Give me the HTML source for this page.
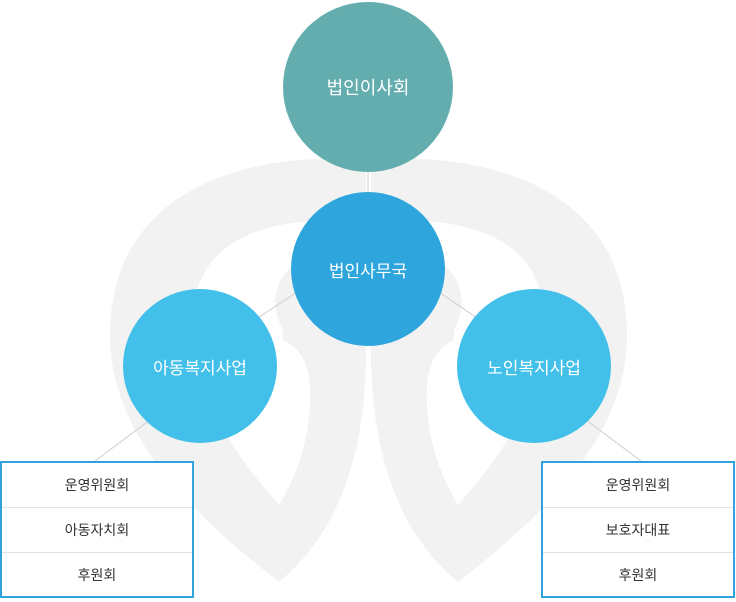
<html><head><style>
body{margin:0;width:736px;height:602px;background:#fff;position:relative;overflow:hidden;font-family:"Liberation Sans","Noto Sans CJK KR",sans-serif}
.c{position:absolute;border-radius:50%;color:#fff;display:flex;align-items:center;justify-content:center;font-size:17px}
.box{position:absolute;top:461px;width:190px;height:133px;border:2px solid #31a3dc;background:#fff}
.box div{height:44px;border-bottom:1px solid #e2e2e2;display:flex;align-items:center;justify-content:center;font-size:14px;color:#333}
.box div:last-child{border-bottom:none}
</style></head><body>
<svg width="736" height="602" style="position:absolute;left:0;top:0">
<defs>
<path id="lobe" fill-rule="evenodd" fill="#f2f2f2" d="M362,159 C220,152 110,205 110,335 C110,440 200,520 279,582 C330,540 364,470 366,360 L366,159 Z
M355,221 C250,215 193,250 193,320 C193,400 240,460 279,505 C300,470 312,430 310,385 C308,358 296,346 283,340 L283,330 C272,310 272,285 290,268 C305,250 330,235 355,232 Z"/>
</defs>
<use href="#lobe"/>
<use href="#lobe" transform="translate(737,0) scale(-1,1)"/>
<g stroke="#ccc" stroke-width="1">
<line x1="368" y1="170" x2="368" y2="195"/>
<line x1="300" y1="290" x2="255" y2="320"/>
<line x1="436" y1="290" x2="480" y2="320"/>
<line x1="150" y1="420" x2="95" y2="461"/>
<line x1="586" y1="420" x2="641" y2="461"/>
</g>
</svg>
<div class="c" style="left:283px;top:2px;width:170px;height:170px;background:#63adaf;font-size:18px">법인이사회</div>
<div class="c" style="left:291px;top:192px;width:154px;height:154px;background:#2ea5dc">법인사무국</div>
<div class="c" style="left:123px;top:289px;width:154px;height:154px;background:#42c0ea">아동복지사업</div>
<div class="c" style="left:457px;top:289px;width:154px;height:154px;background:#42c0ea">노인복지사업</div>
<div class="box" style="left:0"><div>운영위원회</div><div>아동자치회</div><div>후원회</div></div>
<div class="box" style="left:541px"><div>운영위원회</div><div>보호자대표</div><div>후원회</div></div>
</body></html>
